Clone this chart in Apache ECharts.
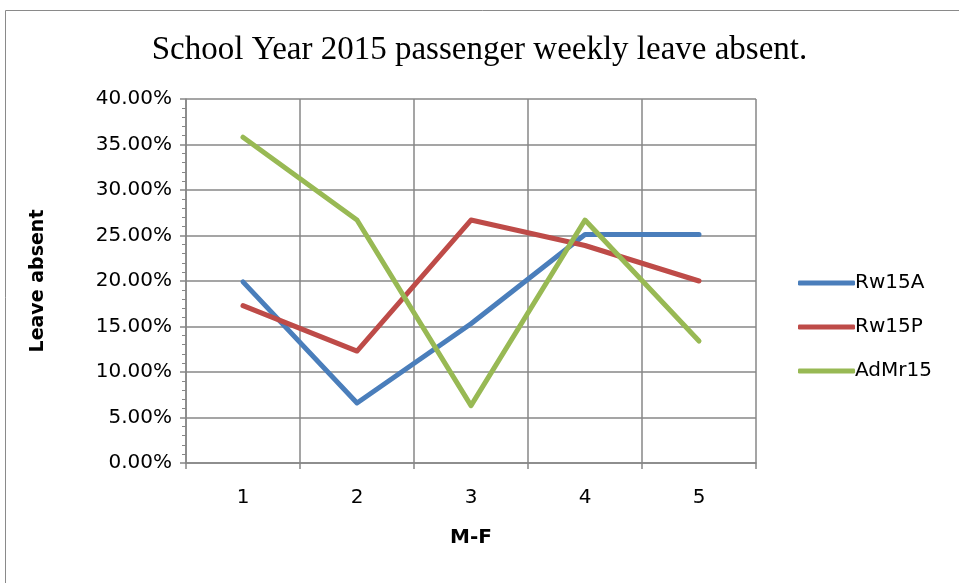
<!DOCTYPE html>
<html>
<head>
    <meta charset="utf-8">
    <title>ECharts</title>
    <script src="https://cdn.jsdelivr.net/npm/echarts@6/dist/echarts.min.js"></script>
    <style>
        html, body { margin: 0; padding: 0; background: #fff; }
    </style>
</head>
<body>
<div id="main" style="width: 959px;height:583px;"></div>
<script type="text/javascript">
    // 数据
    var categories = ['1', '2', '3', '4', '5'];
    var rw15A = [19.9, 6.6, 15.3, 25.1, 25.1];
    var rw15P = [17.3, 12.3, 26.7, 23.9, 20.0];
    var adMr15 = [35.8, 26.7, 6.3, 26.7, 13.4];
    var seriesNames = ['Rw15A', 'Rw15P', 'AdMr15'];
    var colors = ['#4A7EBB', '#BE4B48', '#98B954'];

    var myChart = echarts.init(document.getElementById('main'));
    var labelFont = '"DejaVu Sans", sans-serif';
    var gridColor = '#878787';

    function makeSeries(name, data, color) {
        return {
            name: name,
            type: 'line',
            data: data,
            symbol: 'none',
            lineStyle: { color: color, width: 5, cap: 'round', join: 'round' },
            itemStyle: { color: color }
        };
    }

    myChart.setOption({
        animation: false,
        color: colors,
        title: {
            text: 'School Year 2015 passenger weekly leave absent.',
            left: 'center',
            top: 29,
            textStyle: {
                fontFamily: '"Liberation Serif", "Times New Roman", serif',
                fontSize: 33,
                fontWeight: 'normal',
                color: '#000'
            }
        },
        graphic: [{
            type: 'rect',
            shape: { x: 5.5, y: 10.5, width: 1000, height: 1000 },
            style: { fill: 'none', stroke: '#8a8a8a', lineWidth: 1 },
            silent: true
        }],
        legend: {
            orient: 'vertical',
            left: 793,
            top: 268,
            icon: 'roundRect',
            itemWidth: 57,
            itemHeight: 5,
            itemGap: 24,
            textStyle: { fontFamily: labelFont, fontSize: 20, color: '#000', padding: [0, 0, 0, -5] },
            data: seriesNames
        },
        grid: { left: 186, right: 203, top: 99, bottom: 120, containLabel: false },
        xAxis: {
            type: 'category',
            data: categories,
            boundaryGap: true,
            name: 'M-F',
            nameLocation: 'middle',
            nameGap: 65,
            nameTextStyle: { fontFamily: labelFont, fontSize: 20, fontWeight: 'bold', color: '#000' },
            axisLine: { lineStyle: { color: gridColor, width: 1.5 } },
            axisTick: { show: true, length: 6, lineStyle: { color: gridColor, width: 1.5 } },
            axisLabel: { fontFamily: labelFont, fontSize: 20, color: '#000', margin: 25 },
            splitLine: { show: true, lineStyle: { color: gridColor, width: 1.5 } }
        },
        yAxis: {
            type: 'value',
            min: 0,
            max: 40,
            interval: 5,
            name: 'Leave absent',
            nameLocation: 'middle',
            nameGap: 138,
            nameTextStyle: { fontFamily: labelFont, fontSize: 19, fontWeight: 'bold', color: '#000' },
            axisLine: { show: true, lineStyle: { color: gridColor, width: 1.5 } },
            axisTick: { show: true, length: 6, lineStyle: { color: gridColor, width: 1.5 } },
            minorTick: { show: true, splitNumber: 5, length: 4, lineStyle: { color: gridColor, width: 1 } },
            axisLabel: {
                fontFamily: labelFont, fontSize: 20, color: '#000', margin: 14,
                formatter: function (v) { return v.toFixed(2) + '%'; }
            },
            splitLine: { show: true, lineStyle: { color: gridColor, width: 1.5 } }
        },
        series: [
            makeSeries(seriesNames[0], rw15A, colors[0]),
            makeSeries(seriesNames[1], rw15P, colors[1]),
            makeSeries(seriesNames[2], adMr15, colors[2])
        ]
    });
</script>
</body>
</html>
